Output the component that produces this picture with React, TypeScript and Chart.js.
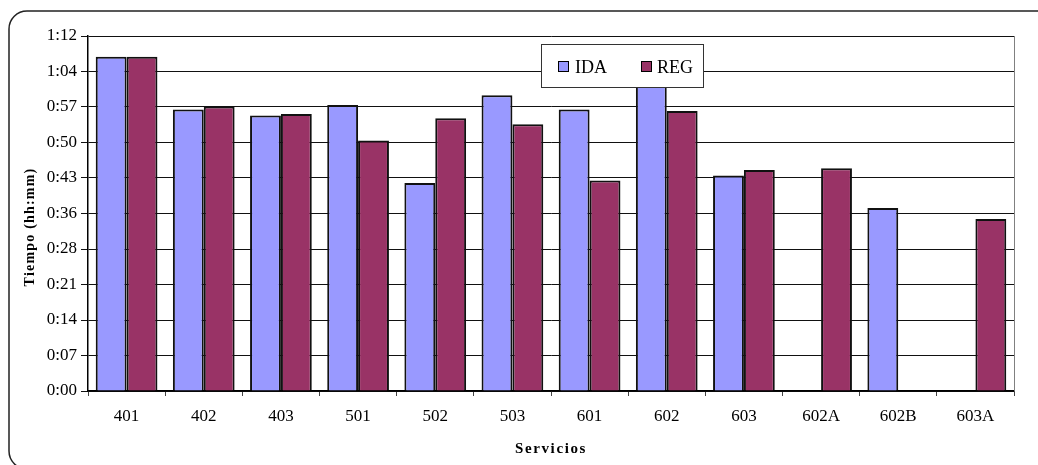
import React, { useEffect, useRef } from "react";
import { Chart, registerables } from "chart.js";

Chart.register(...registerables);

// Services on the x axis
const SERVICIOS = ["401", "402", "403", "501", "502", "503", "601", "602", "603", "602A", "602B", "603A"];

// Travel times in minutes (null = no trip of that kind)
const IDA = [67.8, 57.1, 55.9, 58.0, 42.2, 60.0, 57.1, 62.5, 43.7, null, 37.1, null];
const REG = [67.8, 57.7, 56.2, 50.8, 55.3, 54.1, 42.7, 56.8, 44.8, 45.2, null, 34.9];

// Y axis: 0..72 minutes in ten equal steps, labelled as hh:mm
const Y_TICK_VALUES = [0, 7.2, 14.4, 21.6, 28.8, 36, 43.2, 50.4, 57.6, 64.8, 72];
const Y_TICK_LABELS = ["0:00", "0:07", "0:14", "0:21", "0:28", "0:36", "0:43", "0:50", "0:57", "1:04", "1:12"];

const SERIF = '"Liberation Serif", "Times New Roman", serif';
const IDA_COLOR = "#9999FF";
const REG_COLOR = "#993366";

const framePlugin = {
  id: "frame",
  beforeDraw(chart: any) {
    const { ctx, width, height } = chart;
    ctx.save();
    ctx.fillStyle = "#ffffff";
    ctx.fillRect(0, 0, width, height);
    ctx.beginPath();
    ctx.roundRect(9, 11, 1047, 458, 18);
    ctx.lineWidth = 1.5;
    ctx.strokeStyle = "#222";
    ctx.stroke();
    ctx.restore();
  },
  afterDraw(chart: any) {
    const { ctx, chartArea } = chart;
    ctx.save();
    // right edge of the plot area
    ctx.beginPath();
    ctx.moveTo(chartArea.right + 0.5, chartArea.top);
    ctx.lineTo(chartArea.right + 0.5, chartArea.bottom);
    ctx.strokeStyle = "#808080";
    ctx.lineWidth = 1;
    ctx.stroke();

    // axis titles
    ctx.fillStyle = "#000";
    ctx.font = `bold 14px ${SERIF}`;
    (ctx as any).letterSpacing = "1.2px";
    ctx.textAlign = "center";
    ctx.textBaseline = "middle";
    ctx.save();
    ctx.translate(30, 227);
    ctx.rotate(-Math.PI / 2);
    ctx.fillText("Tiempo (hh:mm)", 0, 0);
    ctx.restore();
    (ctx as any).letterSpacing = "1.6px";
    ctx.font = `bold 15px ${SERIF}`;
    ctx.textBaseline = "alphabetic";
    ctx.fillText("Servicios", (chartArea.left + chartArea.right) / 2, 453);
    (ctx as any).letterSpacing = "0px";

    // legend box
    const lx = 541, ly = 44, lw = 162, lh = 43;
    ctx.fillStyle = "#fff";
    ctx.fillRect(lx, ly, lw, lh);
    ctx.strokeStyle = "#333";
    ctx.lineWidth = 1;
    ctx.strokeRect(lx + 0.5, ly + 0.5, lw, lh);
    const items = [
      { label: "IDA", color: IDA_COLOR, sx: 558, tx: 575 },
      { label: "REG", color: REG_COLOR, sx: 641, tx: 657 },
    ];
    ctx.font = `18px ${SERIF}`;
    ctx.textAlign = "left";
    ctx.textBaseline = "alphabetic";
    for (const it of items) {
      ctx.fillStyle = it.color;
      ctx.fillRect(it.sx, 61, 11, 11);
      ctx.strokeStyle = "#000";
      ctx.strokeRect(it.sx + 0.5, 61.5, 10, 10);
      ctx.fillStyle = "#000";
      ctx.fillText(it.label, it.tx, 73);
    }
    ctx.restore();
  },
};

export default function App() {
  const canvasRef = useRef<HTMLCanvasElement | null>(null);

  useEffect(() => {
    if (!canvasRef.current) return;
    const chart = new Chart(canvasRef.current, {
      type: "bar",
      data: {
        labels: SERVICIOS,
        datasets: [
          {
            label: "IDA",
            data: IDA,
            backgroundColor: IDA_COLOR,
            borderColor: "#111",
            borderWidth: 2,
            categoryPercentage: 0.8,
            barPercentage: 1.0,
          },
          {
            label: "REG",
            data: REG,
            backgroundColor: REG_COLOR,
            borderColor: "#111",
            borderWidth: 2,
            categoryPercentage: 0.8,
            barPercentage: 1.0,
          },
        ],
      },
      options: {
        responsive: false,
        animation: false,
        layout: { padding: { left: 0, top: 36, right: 24, bottom: 0 } },
        plugins: {
          legend: { display: false },
          tooltip: { enabled: false },
        },
        scales: {
          x: {
            grid: {
              offset: true,
              drawOnChartArea: false,
              drawTicks: true,
              tickLength: 5,
              color: "#444",
            },
            border: { display: true, color: "#000", width: 1.5 },
            ticks: {
              color: "#000",
              font: { family: SERIF, size: 17 },
              padding: 10,
              maxRotation: 0,
              autoSkip: false,
            },
            afterFit(scale: any) {
              scale.height = 74;
            },
          },
          y: {
            min: 0,
            max: 72,
            grid: {
              color: "#111",
              lineWidth: 1,
              tickLength: 7,
            },
            border: { display: true, color: "#000", width: 1.5 },
            ticks: {
              color: "#000",
              font: { family: SERIF, size: 17 },
              padding: 4,
              callback: (_v: any, i: number) => Y_TICK_LABELS[i],
            },
            afterBuildTicks(scale: any) {
              scale.ticks = Y_TICK_VALUES.map((v) => ({ value: v }));
            },
            afterFit(scale: any) {
              scale.width = 88;
            },
          },
        },
      },
      plugins: [framePlugin],
    });
    return () => chart.destroy();
  }, []);

  return (
    <div style={{ position: "fixed", left: 0, top: 0, width: 1038, height: 465 }}>
      <canvas ref={canvasRef} width={1038} height={465} />
    </div>
  );
}
